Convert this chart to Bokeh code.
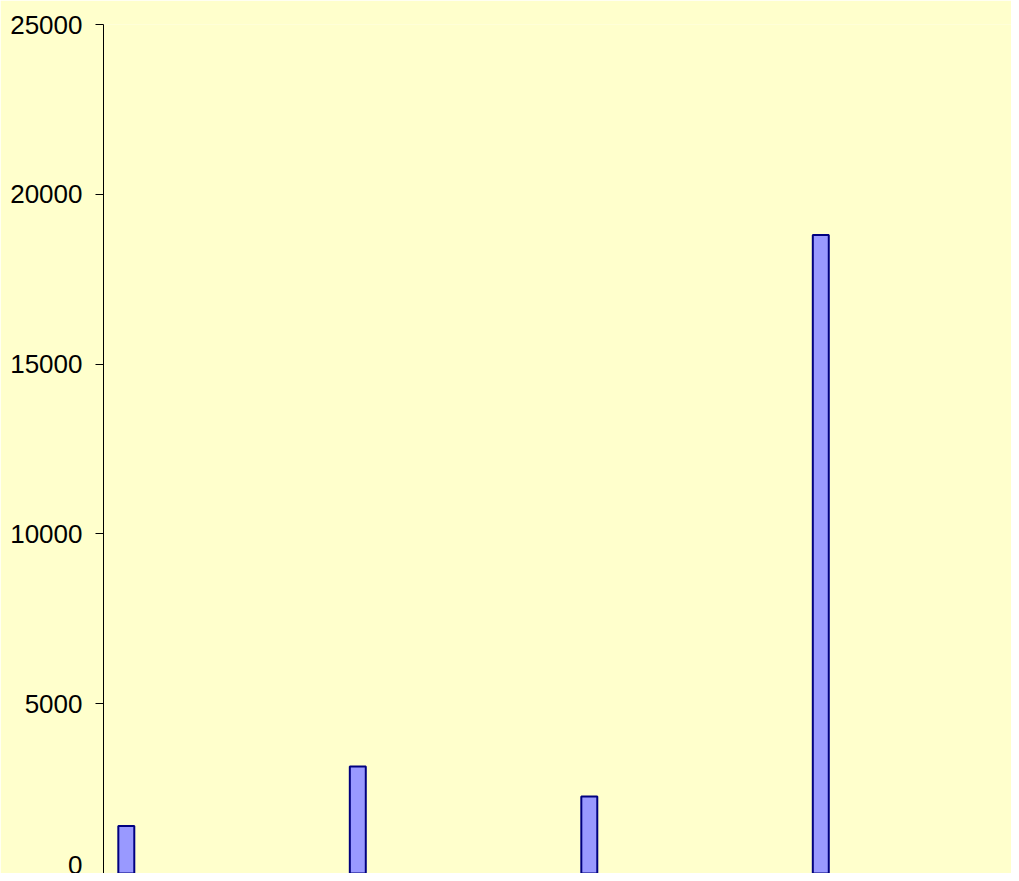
from bokeh.plotting import figure
from bokeh.models import Range1d, FixedTicker
from bokeh.embed import file_html
from bokeh.resources import INLINE

# Data
categories = ["1", "2", "3", "4"]
values = [1400, 3150, 2270, 18800]
y_ticks = [0, 5000, 10000, 15000, 20000, 25000]

x_pos = [i + 1 for i in range(len(categories))]

p = figure(width=1011, height=873, output_backend="svg", toolbar_location=None,
           x_range=Range1d(0.9015, 4.8238), y_range=Range1d(0, 25000),
           x_axis_location=None)

p.background_fill_color = "#FFFFCC"
p.border_fill_color = "#FFFFCC"
p.outline_line_color = None
p.grid.visible = False
p.min_border_left = 103
p.min_border_right = 0
p.min_border_top = 24
p.min_border_bottom = 0

p.vbar(x=x_pos, top=values, bottom=0, width=0.069,
       fill_color="#9999FF", line_color="#000080", line_width=2)

ax = p.yaxis[0]
ax.ticker = FixedTicker(ticks=y_ticks)
ax.minor_tick_line_color = None
ax.major_tick_out = 8
ax.major_tick_in = 0
ax.major_label_standoff = 13
ax.axis_line_color = "black"
ax.major_tick_line_color = "black"
ax.major_label_text_font = "Liberation Sans"
ax.major_label_text_font_size = "26px"
ax.major_label_text_color = "black"

open("out.html", "w").write(file_html(p, INLINE))
